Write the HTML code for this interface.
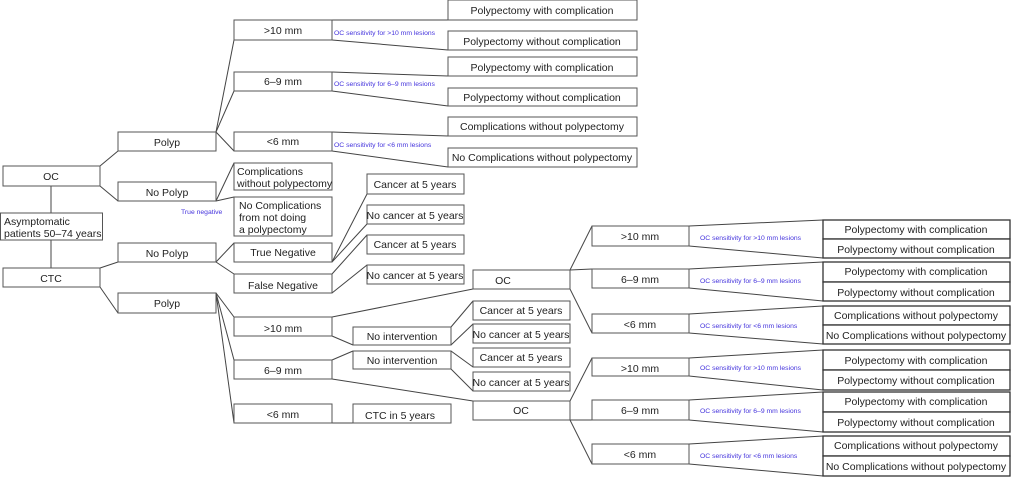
<!DOCTYPE html>
<html><head><meta charset="utf-8"><style>
html,body{margin:0;padding:0;background:#fff;}
svg{display:block;}
text{font-family:"Liberation Sans",sans-serif;fill:#222;}
.b{fill:#fff;stroke:#555;stroke-width:1;}
.l{stroke:#444;stroke-width:1;fill:none;}
.t{font-size:10.5px;text-anchor:middle;}
.s{font-size:6.8px;fill:#4433dd;}
</style></head><body>
<svg width="1011" height="477" viewBox="0 0 1011 477" xmlns="http://www.w3.org/2000/svg">
<!-- connectors -->
<g class="l">
<line x1="51" y1="186" x2="51" y2="213"/><line x1="51" y1="240" x2="51" y2="268"/>
<line x1="100" y1="166" x2="118" y2="151"/><line x1="100" y1="186" x2="118" y2="201"/>
<line x1="216" y1="132" x2="234" y2="40"/><line x1="216" y1="132" x2="234" y2="91"/><line x1="216" y1="132" x2="234" y2="151"/>
<line x1="216" y1="201" x2="234" y2="163"/><line x1="216" y1="201" x2="234" y2="197"/>
<line x1="332" y1="20" x2="448" y2="20"/><line x1="332" y1="40" x2="448" y2="50"/>
<line x1="332" y1="72" x2="448" y2="76"/><line x1="332" y1="91" x2="448" y2="106"/>
<line x1="332" y1="132" x2="448" y2="136"/><line x1="332" y1="151" x2="448" y2="167"/>
<line x1="100" y1="268" x2="118" y2="262"/><line x1="100" y1="287" x2="118" y2="313"/>
<line x1="216" y1="262" x2="234" y2="243"/><line x1="216" y1="262" x2="234" y2="274"/>
<line x1="332" y1="262" x2="367" y2="194"/><line x1="332" y1="262" x2="367" y2="224"/>
<line x1="332" y1="274" x2="367" y2="235"/><line x1="332" y1="293" x2="367" y2="265"/>
<line x1="216" y1="293" x2="234" y2="317"/><line x1="216" y1="293" x2="234" y2="360"/><line x1="216" y1="293" x2="234" y2="423"/>
<line x1="332" y1="317" x2="473" y2="289"/><line x1="332" y1="336" x2="353" y2="345"/>
<line x1="332" y1="360" x2="353" y2="351"/><line x1="332" y1="379" x2="473" y2="401"/>
<line x1="332" y1="423" x2="353" y2="423"/>
<line x1="451" y1="327" x2="473" y2="301"/><line x1="451" y1="345" x2="473" y2="324"/>
<line x1="451" y1="351" x2="473" y2="367"/><line x1="451" y1="369" x2="473" y2="391"/>
<line x1="570" y1="270" x2="592" y2="226"/><line x1="570" y1="270" x2="592" y2="269"/><line x1="570" y1="289" x2="592" y2="333"/>
<line x1="570" y1="401" x2="592" y2="358"/><line x1="570" y1="420" x2="592" y2="420"/><line x1="570" y1="420" x2="592" y2="464"/>
<line x1="689" y1="226" x2="823" y2="220"/><line x1="689" y1="246" x2="823" y2="258"/>
<line x1="689" y1="269" x2="823" y2="262"/><line x1="689" y1="288" x2="823" y2="301"/>
<line x1="689" y1="314" x2="823" y2="306"/><line x1="689" y1="333" x2="823" y2="344"/>
<line x1="689" y1="358" x2="823" y2="350"/><line x1="689" y1="376" x2="823" y2="390"/>
<line x1="689" y1="400" x2="823" y2="392"/><line x1="689" y1="420" x2="823" y2="432"/>
<line x1="689" y1="444" x2="823" y2="436"/><line x1="689" y1="464" x2="823" y2="476"/>
</g>
<!-- boxes -->
<g>
<rect class="b" x="3" y="166" width="97" height="20"/><text class="t" x="51" y="180">OC</text>
<rect class="b" x="0.5" y="213" width="102" height="27"/><text x="4" y="225" style="font-size:10.5px">Asymptomatic</text><text x="4" y="237" style="font-size:10.5px">patients 50–74 years</text>
<rect class="b" x="3" y="268" width="97" height="19"/><text class="t" x="51" y="282">CTC</text>
<rect class="b" x="118" y="132" width="98" height="19"/><text class="t" x="167" y="146">Polyp</text>
<rect class="b" x="118" y="182" width="98" height="19"/><text class="t" x="167" y="196">No Polyp</text>
<rect class="b" x="118" y="243" width="98" height="19"/><text class="t" x="167" y="257">No Polyp</text>
<rect class="b" x="118" y="293" width="98" height="20"/><text class="t" x="167" y="307">Polyp</text>
<rect class="b" x="234" y="20" width="98" height="20"/><text class="t" x="283" y="34">&gt;10 mm</text>
<rect class="b" x="234" y="72" width="98" height="19"/><text class="t" x="283" y="85">6–9 mm</text>
<rect class="b" x="234" y="132" width="98" height="19"/><text class="t" x="283" y="145">&lt;6 mm</text>
<rect class="b" x="234" y="163" width="98" height="27"/><text x="237" y="175" style="font-size:10.5px">Complications</text><text x="237" y="187" style="font-size:10.5px">without polypectomy</text>
<rect class="b" x="234" y="197" width="98" height="39"/><text x="239" y="209" style="font-size:10.5px">No Complications</text><text x="239" y="221" style="font-size:10.5px">from not doing</text><text x="239" y="233" style="font-size:10.5px">a polypectomy</text>
<text class="s" x="181" y="214">True negative</text>
<rect class="b" x="234" y="243" width="98" height="19"/><text class="t" x="283" y="256">True Negative</text>
<rect class="b" x="234" y="274" width="98" height="19"/><text class="t" x="283" y="289">False Negative</text>
<rect class="b" x="234" y="317" width="98" height="19"/><text class="t" x="283" y="332">&gt;10 mm</text>
<rect class="b" x="234" y="360" width="98" height="19"/><text class="t" x="283" y="374">6–9 mm</text>
<rect class="b" x="234" y="404" width="98" height="19"/><text class="t" x="283" y="418">&lt;6 mm</text>
<rect class="b" x="353" y="327" width="98" height="18"/><text class="t" x="402" y="340">No intervention</text>
<rect class="b" x="353" y="351" width="98" height="18"/><text class="t" x="402" y="364">No intervention</text>
<rect class="b" x="353" y="404" width="98" height="19"/><text class="t" x="400" y="419">CTC in 5 years</text>
<rect class="b" x="367" y="174" width="97" height="20"/><text class="t" x="415" y="188">Cancer at 5 years</text>
<rect class="b" x="367" y="205" width="97" height="19"/><text class="t" x="415" y="219">No cancer at 5 years</text>
<rect class="b" x="367" y="235" width="97" height="19"/><text class="t" x="415" y="248">Cancer at 5 years</text>
<rect class="b" x="367" y="265" width="97" height="19"/><text class="t" x="415" y="279">No cancer at 5 years</text>
<rect class="b" x="448" y="0" width="189" height="20"/><text class="t" x="542" y="14">Polypectomy with complication</text>
<rect class="b" x="448" y="31" width="189" height="19"/><text class="t" x="542" y="45">Polypectomy without complication</text>
<rect class="b" x="448" y="57" width="189" height="19"/><text class="t" x="542" y="71">Polypectomy with complication</text>
<rect class="b" x="448" y="88" width="189" height="18"/><text class="t" x="542" y="101">Polypectomy without complication</text>
<rect class="b" x="448" y="117" width="189" height="19"/><text class="t" x="542" y="130">Complications without polypectomy</text>
<rect class="b" x="448" y="148" width="189" height="19"/><text class="t" x="542" y="161">No Complications without polypectomy</text>
<text class="s" x="334" y="35">OC sensitivity for &gt;10 mm lesions</text>
<text class="s" x="334" y="86">OC sensitivity for 6–9 mm lesions</text>
<text class="s" x="334" y="147">OC sensitivity for &lt;6 mm lesions</text>
<rect class="b" x="473" y="270" width="97" height="19"/><text class="t" x="503" y="284">OC</text>
<rect class="b" x="473" y="301" width="97" height="19"/><text class="t" x="521" y="314">Cancer at 5 years</text>
<rect class="b" x="473" y="324" width="97" height="19"/><text class="t" x="521" y="338">No cancer at 5 years</text>
<rect class="b" x="473" y="348" width="97" height="19"/><text class="t" x="521" y="361">Cancer at 5 years</text>
<rect class="b" x="473" y="372" width="97" height="19"/><text class="t" x="521" y="386">No cancer at 5 years</text>
<rect class="b" x="473" y="401" width="97" height="19"/><text class="t" x="521" y="414">OC</text>
<rect class="b" x="592" y="226" width="97" height="20"/><text class="t" x="640" y="240">&gt;10 mm</text>
<rect class="b" x="592" y="269" width="97" height="19"/><text class="t" x="640" y="283">6–9 mm</text>
<rect class="b" x="592" y="314" width="97" height="19"/><text class="t" x="640" y="328">&lt;6 mm</text>
<rect class="b" x="592" y="358" width="97" height="18"/><text class="t" x="640" y="372">&gt;10 mm</text>
<rect class="b" x="592" y="400" width="97" height="20"/><text class="t" x="640" y="414">6–9 mm</text>
<rect class="b" x="592" y="444" width="97" height="20"/><text class="t" x="640" y="458">&lt;6 mm</text>
<text class="s" x="700" y="240">OC sensitivity for &gt;10 mm lesions</text>
<text class="s" x="700" y="283">OC sensitivity for 6–9 mm lesions</text>
<text class="s" x="700" y="328">OC sensitivity for &lt;6 mm lesions</text>
<text class="s" x="700" y="370">OC sensitivity for &gt;10 mm lesions</text>
<text class="s" x="700" y="413">OC sensitivity for 6–9 mm lesions</text>
<text class="s" x="700" y="458">OC sensitivity for &lt;6 mm lesions</text>
</g>
<g>
<rect class="b" x="823" y="220" width="187" height="19" style="stroke:#333;stroke-width:1.3"/><text class="t" x="916" y="233">Polypectomy with complication</text>
<rect class="b" x="823" y="239" width="187" height="19" style="stroke:#333;stroke-width:1.3"/><text class="t" x="916" y="253">Polypectomy without complication</text>
<rect class="b" x="823" y="262" width="187" height="20" style="stroke:#333;stroke-width:1.3"/><text class="t" x="916" y="275">Polypectomy with complication</text>
<rect class="b" x="823" y="282" width="187" height="19" style="stroke:#333;stroke-width:1.3"/><text class="t" x="916" y="296">Polypectomy without complication</text>
<rect class="b" x="823" y="306" width="187" height="19" style="stroke:#333;stroke-width:1.3"/><text class="t" x="916" y="319">Complications without polypectomy</text>
<rect class="b" x="823" y="325" width="187" height="19" style="stroke:#333;stroke-width:1.3"/><text class="t" x="916" y="339">No Complications without polypectomy</text>
<rect class="b" x="823" y="350" width="187" height="20" style="stroke:#333;stroke-width:1.3"/><text class="t" x="916" y="364">Polypectomy with complication</text>
<rect class="b" x="823" y="370" width="187" height="20" style="stroke:#333;stroke-width:1.3"/><text class="t" x="916" y="384">Polypectomy without complication</text>
<rect class="b" x="823" y="392" width="187" height="20" style="stroke:#333;stroke-width:1.3"/><text class="t" x="916" y="405">Polypectomy with complication</text>
<rect class="b" x="823" y="412" width="187" height="20" style="stroke:#333;stroke-width:1.3"/><text class="t" x="916" y="426">Polypectomy without complication</text>
<rect class="b" x="823" y="436" width="187" height="20" style="stroke:#333;stroke-width:1.3"/><text class="t" x="916" y="449">Complications without polypectomy</text>
<rect class="b" x="823" y="456" width="187" height="20" style="stroke:#333;stroke-width:1.3"/><text class="t" x="916" y="470">No Complications without polypectomy</text>
</g>
</svg>
</body></html>
